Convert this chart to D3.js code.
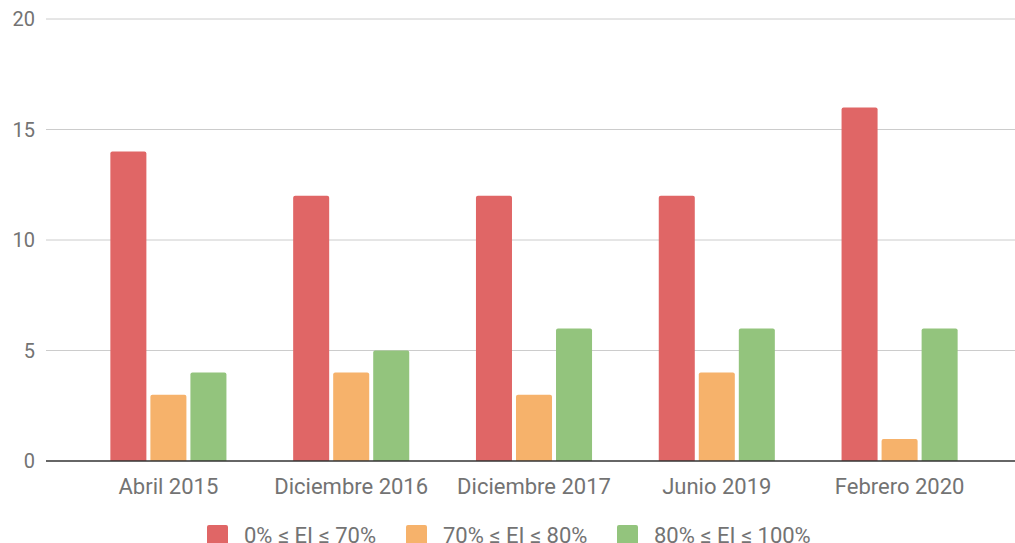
<!DOCTYPE html>
<html>
<head>
<meta charset="utf-8">
<script src="https://cdn.jsdelivr.net/npm/d3@7"></script>
<style>
  body { margin: 0; background: #fff; overflow: hidden; }
  text { font-family: Roboto, sans-serif; }
</style>
</head>
<body>
<div id="graph"></div>
<script>
// data
var categories = ['Abril 2015', 'Diciembre 2016', 'Diciembre 2017', 'Junio 2019', 'Febrero 2020'];
var seriesNames = ['0% ≤ EI ≤ 70%', '70% ≤ EI ≤ 80%', '80% ≤ EI ≤ 100%'];
var low = [14, 12, 12, 12, 16];
var mid = [3, 4, 3, 4, 1];
var high = [4, 5, 6, 6, 6];
var yTicks = [0, 5, 10, 15, 20];

var colors = ['#e06666', '#f6b26b', '#93c47d'];
var seriesValues = [low, mid, high];

var width = 1015, height = 543;

var data = categories.map(function(c, i) {
  return { cat: c, vals: seriesNames.map(function(s, j) { return { key: s, value: seriesValues[j][i], color: colors[j] }; }) };
});

var svg = d3.select('#graph').append('svg')
  .attr('width', width)
  .attr('height', height);

var y = d3.scaleLinear().domain([0, 20]).range([461, 19]);

var x0 = d3.scaleBand()
  .domain(categories)
  .range([77, 991])
  .paddingInner(0.365)
  .paddingOuter(0.1825);

var x1 = d3.scaleBand()
  .domain(seriesNames)
  .range([0, x0.bandwidth()])
  .paddingInner(0.1);

// gridlines
svg.append('g')
  .selectAll('line')
  .data(yTicks.filter(function(d) { return d > 0; }))
  .enter().append('line')
    .attr('x1', 46).attr('x2', width)
    .attr('y1', function(d) { return y(d); })
    .attr('y2', function(d) { return y(d); })
    .attr('stroke', '#cccccc')
    .attr('stroke-width', 1);

// y labels
svg.append('g')
  .selectAll('text')
  .data(yTicks)
  .enter().append('text')
    .attr('x', 35)
    .attr('y', function(d) { return y(d); })
    .attr('dy', '0.35em')
    .attr('text-anchor', 'end')
    .attr('fill', '#737373')
    .style('font-size', '20px')
    .text(function(d) { return d; });

// bars
var groups = svg.append('g')
  .selectAll('g')
  .data(data)
  .enter().append('g')
    .attr('transform', function(d) { return 'translate(' + x0(d.cat) + ',0)'; });

groups.selectAll('path')
  .data(function(d) { return d.vals; })
  .enter().append('path')
    .attr('fill', function(d) { return d.color; })
    .attr('d', function(d) {
      var bx = x1(d.key), bw = x1.bandwidth(), by = y(d.value), b = y(0), r = 2;
      return 'M' + bx + ',' + b +
        'V' + (by + r) +
        'Q' + bx + ',' + by + ' ' + (bx + r) + ',' + by +
        'H' + (bx + bw - r) +
        'Q' + (bx + bw) + ',' + by + ' ' + (bx + bw) + ',' + (by + r) +
        'V' + b + 'Z';
    });

// baseline
svg.append('line')
  .attr('x1', 46).attr('x2', width)
  .attr('y1', y(0)).attr('y2', y(0))
  .attr('stroke', '#333333')
  .attr('stroke-width', 1.5);

// x labels
svg.append('g')
  .selectAll('text')
  .data(categories)
  .enter().append('text')
    .attr('x', function(d) { return x0(d) + x0.bandwidth() / 2; })
    .attr('y', 486)
    .attr('dy', '0.35em')
    .attr('text-anchor', 'middle')
    .attr('fill', '#737373')
    .style('font-size', '22px')
    .text(function(d) { return d; });

// legend
var legendX = [207, 406, 617];
var legend = svg.append('g')
  .selectAll('g')
  .data(seriesNames)
  .enter().append('g')
    .attr('transform', function(d, i) { return 'translate(' + legendX[i] + ',525)'; });

legend.append('rect')
  .attr('width', 21).attr('height', 21)
  .attr('rx', 2)
  .attr('fill', function(d, i) { return colors[i]; });

legend.append('text')
  .attr('x', 37)
  .attr('y', 10)
  .attr('dy', '0.35em')
  .attr('fill', '#737373')
  .style('font-size', '22px')
  .text(function(d) { return d; });
</script>
</body>
</html>
